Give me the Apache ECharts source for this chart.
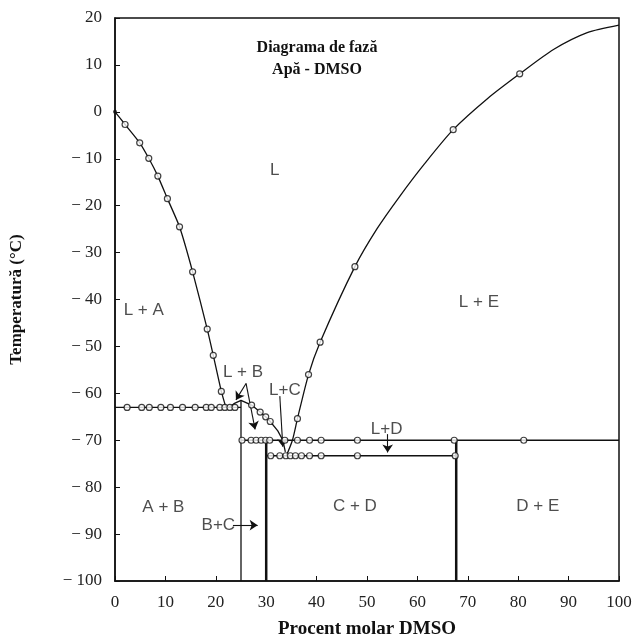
<!DOCTYPE html>
<html>
<head>
<meta charset="utf-8">
<script src="https://cdn.jsdelivr.net/npm/echarts@6/dist/echarts.min.js"></script>
<style>
    html, body { margin: 0; background: #fff; }
    #chart { width: 640px; height: 644px; }
</style>
</head>
<body>
<div id="chart"></div>
<script>
// --- Data (x = % molar DMSO, y = °C) ---
const iceCurve = [[0, 0], [2.0, -2.7], [4.9, -6.6], [6.7, -9.9], [8.5, -13.7], [10.4, -18.5],
    [12.8, -24.5], [15.4, -34.1], [18.3, -46.3], [19.5, -51.9], [21.1, -59.6], [22.0, -63]];
const iceMarks = [[2.0, -2.7], [4.9, -6.6], [6.7, -9.9], [8.5, -13.7], [10.4, -18.5],
    [12.8, -24.5], [15.4, -34.1], [18.3, -46.3], [19.5, -51.9], [21.1, -59.6]];

const bCurve = [[22.6, -63], [23.6, -62.2], [25.0, -61.5], [27.1, -62.5], [28.8, -64],
    [29.9, -65], [30.8, -66], [32.3, -68], [33.3, -70], [33.8, -72.5]];
const bMarks = [[27.1, -62.5], [28.8, -64], [29.9, -65], [30.8, -66]];

const rightCurve = [[34.0, -73.3], [35.2, -70], [36.2, -65.4], [38.4, -56], [40.7, -49.1],
    [47.6, -33.0], [52.0, -24.9], [56.5, -18.0], [61.4, -11.1], [67.1, -3.8], [74.0, 2.9],
    [80.3, 8.1], [87.0, 13.3], [93.7, 16.9], [100, 18.5]];
const rightMarks = [[36.2, -65.4], [38.4, -56], [40.7, -49.1], [47.6, -33.0], [67.1, -3.8], [80.3, 8.1]];

// horizontal invariant lines
const lineAB = [[0, -63], [25, -63]];
const lineABMarksX = [2.4, 5.3, 6.8, 9.1, 11.0, 13.4, 15.9, 18.1, 19.1, 20.8, 21.8, 22.8, 23.8];
const line70 = [[25, -70], [100, -70]];
const line70MarksX = [25.2, 27.0, 28.0, 29.0, 29.9, 30.7, 33.7, 36.2, 38.6, 40.9, 48.1, 67.3, 81.1];
const line73 = [[30, -73.3], [67.7, -73.3]];
const line73MarksX = [30.9, 32.7, 33.9, 34.8, 35.8, 37.0, 38.6, 40.9, 48.1, 67.5];

// vertical compound lines
const vertB = [[25, -61.5], [25, -100]];
const vertC = [[30, -70], [30, -100]];
const vertD = [[67.7, -70], [67.7, -100]];

// region labels and arrows (data coordinates)
const regionLabels = [
    ['L', 31.7, -12.4], ['L + A', 5.7, -42.2], ['L + E', 72.2, -40.5],
    ['L + B', 25.4, -55.6], ['L+C', 33.7, -59.3], ['L+D', 53.9, -67.7],
    ['A + B', 9.6, -84.4], ['B+C', 20.5, -88.1], ['C + D', 47.6, -84.0], ['D + E', 83.9, -84.0]
];
const arrows = [
    [[26.0, -57.9], [24.0, -61.4]],
    [[26.0, -57.9], [27.8, -67.7]],
    [[32.7, -60.6], [33.3, -71.4]],
    [[54.1, -68.7], [54.1, -72.6]],
    [[23.4, -88.1], [28.3, -88.1]]
];

const INK = '#111';

function curve(data, width, smooth) {
    return {
        type: 'line', data, smooth: smooth || false, symbol: 'none', silent: true,
        lineStyle: { color: INK, width: width }, z: 2
    };
}

function marks(data) {
    return {
        type: 'scatter', data, symbol: 'circle', symbolSize: 6, silent: true,
        itemStyle: { color: '#fff', borderColor: INK, borderWidth: 1.2 }, z: 5
    };
}

const chart = echarts.init(document.getElementById('chart'));

chart.setOption({
    backgroundColor: '#fff',
    animation: false,
    title: {
        text: 'Diagrama de fază\nApă - DMSO',
        left: 312, top: 32, textAlign: 'center',
        textStyle: { fontFamily: 'Liberation Serif', fontWeight: 'bold', fontSize: 16, lineHeight: 22, color: INK }
    },
    grid: { left: 111, right: 21, top: 18, bottom: 51, show: true, borderColor: INK, borderWidth: 1.5 },
    xAxis: {
        type: 'value', min: 0, max: 100, interval: 10,
        name: 'Procent molar DMSO', nameLocation: 'middle', nameGap: 39,
        nameTextStyle: { fontFamily: 'Liberation Serif', fontWeight: 'bold', fontSize: 19, color: INK },
        axisLine: { onZero: false, lineStyle: { color: INK, width: 1.5 } },
        axisTick: { inside: true, length: 5, lineStyle: { color: INK } },
        axisLabel: { fontFamily: 'Liberation Serif', fontSize: 17, color: '#222', margin: 13 },
        splitLine: { show: false }
    },
    yAxis: {
        type: 'value', min: -100, max: 20, interval: 10,
        name: 'Temperatură (°C)', nameLocation: 'middle', nameGap: 90, nameRotate: 90,
        nameTextStyle: { fontFamily: 'Liberation Serif', fontWeight: 'bold', fontSize: 17, color: INK },
        axisLine: { onZero: false, lineStyle: { color: INK, width: 1.5 } },
        axisTick: { inside: true, length: 5, lineStyle: { color: INK } },
        axisLabel: {
            fontFamily: 'Liberation Serif', fontSize: 17, color: '#222', margin: 13,
            formatter: v => v < 0 ? '− ' + (-v) : String(v)
        },
        splitLine: { show: false }
    },
    series: [
        curve(iceCurve, 1.3, 0.2),
        curve(bCurve, 1.3),
        curve(rightCurve, 1.3, 0.25),
        curve(lineAB, 1.3),
        curve(line70, 1.3),
        curve(line73, 1.3),
        curve(vertB, 1.3),
        curve(vertC, 2.5),
        curve(vertD, 2.5),
        marks(iceMarks),
        marks(bMarks),
        marks(rightMarks),
        marks(lineABMarksX.map(x => [x, -63])),
        marks(line70MarksX.map(x => [x, -70])),
        marks(line73MarksX.map(x => [x, -73.3])),
        {
            type: 'scatter', silent: true, symbolSize: 4, data: [[0, 0]],
            itemStyle: { color: INK }, z: 5
        },
        {
            type: 'scatter', silent: true, symbolSize: 1, z: 6,
            data: regionLabels.map(r => ({ value: [r[1], r[2]], name: r[0] })),
            itemStyle: { color: 'transparent' },
            label: {
                show: true, position: 'inside', formatter: p => p.name,
                fontFamily: 'Liberation Sans', fontSize: 17, color: '#222'
            }
        },
        {
            type: 'line', data: [], silent: true,
            markLine: {
                silent: true, animation: false,
                symbol: ['none', 'arrow'], symbolSize: 8,
                label: { show: false },
                lineStyle: { color: INK, width: 1.1, type: 'solid' },
                itemStyle: { color: INK },
                data: arrows.map(a => [{ coord: a[0] }, { coord: a[1] }])
            }
        }
    ]
});
</script>
</body>
</html>
